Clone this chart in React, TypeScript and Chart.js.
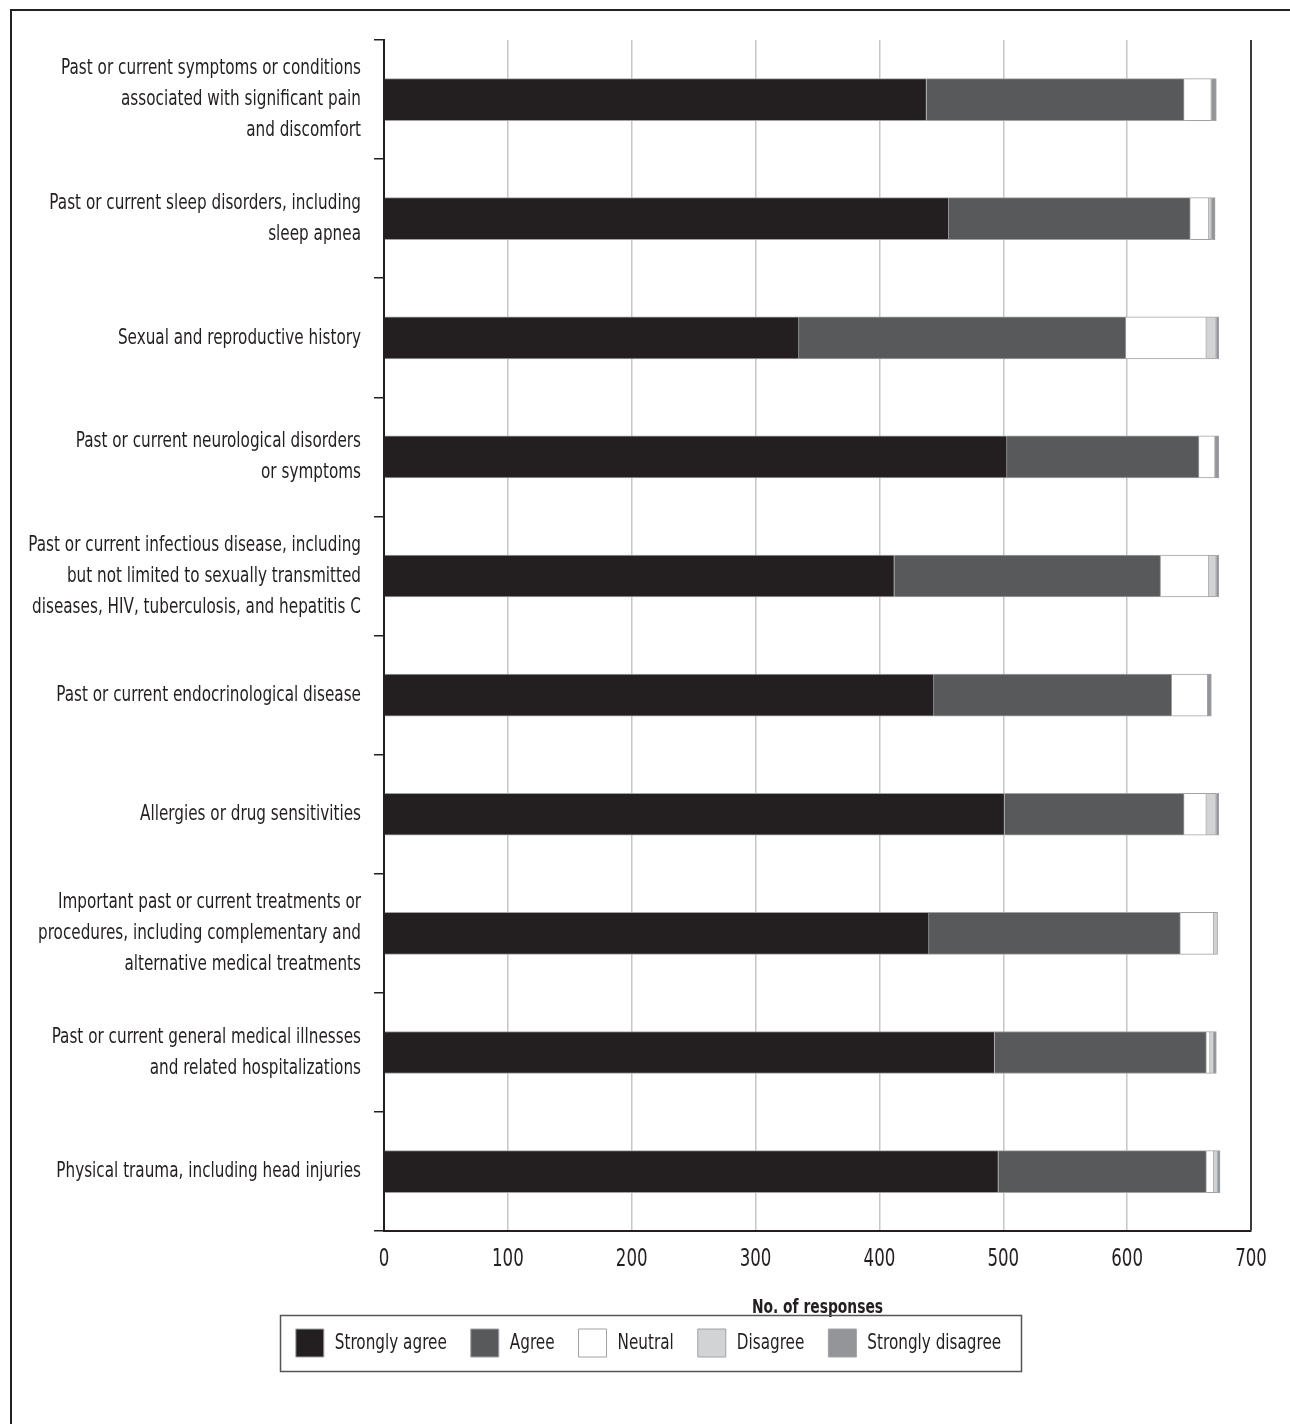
import React, { useEffect, useRef } from 'react';
import { Chart, registerables } from 'chart.js';
Chart.register(...registerables);

const categories: (string | string[])[] = [
  ['Past or current symptoms or conditions', 'associated with significant pain', 'and discomfort'],
  ['Past or current sleep disorders, including', 'sleep apnea'],
  'Sexual and reproductive history',
  ['Past or current neurological disorders', 'or symptoms'],
  ['Past or current infectious disease, including', 'but not limited to sexually transmitted', 'diseases, HIV, tuberculosis, and hepatitis C'],
  'Past or current endocrinological disease',
  'Allergies or drug sensitivities',
  ['Important past or current treatments or', 'procedures, including complementary and', 'alternative medical treatments'],
  ['Past or current general medical illnesses', 'and related hospitalizations'],
  'Physical trauma, including head injuries',
];
const stronglyAgree = [438, 456, 335, 503, 412, 444, 501, 440, 493, 496];
const agree = [208, 195, 264, 155, 215, 192, 145, 203, 171, 168];
const neutral = [22, 15, 65, 13, 39, 29, 18, 27, 3, 6];
const disagree = [0, 2, 8, 0, 6, 0, 8, 3, 3, 3];
const stronglyDisagree = [4, 3, 2, 3, 2, 3, 2, 0, 2, 2];
const xTicks = [0, 100, 200, 300, 400, 500, 600, 700];

const FONT = '"DejaVu Sans Condensed", sans-serif';
const INK = '#231f20';
const SQUEEZE = 0.77;
const LEGEND_SHIFT = 23;

const legendFrame = {
  id: 'legendFrame',
  afterUpdate(chart: any) {
    const lg = chart.legend;
    if (!lg) return;
    lg.left += LEGEND_SHIFT;
    lg.right += LEGEND_SHIFT;
    (lg.legendHitBoxes || []).forEach((b: any) => { b.left += LEGEND_SHIFT; });
  },
  afterDraw(chart: any) {
    const boxes = chart.legend && chart.legend.legendHitBoxes;
    if (!boxes || !boxes.length) return;
    const l = Math.min(...boxes.map((b: any) => b.left));
    const r = Math.max(...boxes.map((b: any) => b.left + b.width));
    const t = Math.min(...boxes.map((b: any) => b.top));
    const bt = Math.max(...boxes.map((b: any) => b.top + b.height));
    const ctx = chart.ctx;
    ctx.save();
    ctx.strokeStyle = '#555';
    ctx.lineWidth = 1.5;
    ctx.strokeRect(Math.round(l - 16) + 0.5, Math.round(t - 14) + 0.5, Math.round(r - l + 36), Math.round(bt - t + 28));
    ctx.restore();
  },
};

function condense(ctx: CanvasRenderingContext2D) {
  const origFill = ctx.fillText.bind(ctx);
  const origMeasure = ctx.measureText.bind(ctx);
  (ctx as any).fillText = (t: string, x: number, y: number) => {
    ctx.save();
    ctx.translate(x, y);
    ctx.scale(SQUEEZE, 1);
    origFill(t, 0, 0);
    ctx.restore();
  };
  (ctx as any).measureText = (t: string) => {
    const m = origMeasure(t);
    return {
      width: m.width * SQUEEZE,
      actualBoundingBoxAscent: m.actualBoundingBoxAscent,
      actualBoundingBoxDescent: m.actualBoundingBoxDescent,
      actualBoundingBoxLeft: m.actualBoundingBoxLeft * SQUEEZE,
      actualBoundingBoxRight: m.actualBoundingBoxRight * SQUEEZE,
    };
  };
}

export default function App() {
  const ref = useRef<HTMLCanvasElement>(null);
  useEffect(() => {
    if (!ref.current) return;
    const ctx = ref.current.getContext('2d')!;
    condense(ctx);
    const mk = (label: string, data: number[], bg: string) => ({
      label,
      data,
      backgroundColor: bg,
      borderColor: '#a0a2a5',
      borderWidth: 1,
      barThickness: 42,
    });
    const chart = new Chart(ctx, {
      type: 'bar',
      data: {
        labels: categories as any,
        datasets: [
          mk('Strongly agree', stronglyAgree, INK),
          mk('Agree', agree, '#58595b'),
          mk('Neutral', neutral, '#ffffff'),
          mk('Disagree', disagree, '#d1d3d4'),
          mk('Strongly disagree', stronglyDisagree, '#939598'),
        ],
      },
      options: {
        indexAxis: 'y',
        responsive: false,
        animation: false,
        devicePixelRatio: 1,
        layout: { padding: { left: 0, right: 39, top: 40, bottom: 57 } },
        scales: {
          x: {
            stacked: true,
            min: 0,
            max: 700,
            afterBuildTicks: (s: any) => { s.ticks = xTicks.map((v) => ({ value: v })); },
            grid: {
              drawTicks: false,
              color: (c: any) => (c.tick && c.tick.value === 700 ? '#3a3a3a' : c.tick && c.tick.value === 0 ? 'rgba(0,0,0,0)' : '#c6c6c6'),
              lineWidth: (c: any) => (c.tick && c.tick.value === 700 ? 2 : 1.5),
            },
            border: { color: INK, width: 2 },
            ticks: { color: INK, font: { family: FONT, size: 24 }, padding: 14, maxRotation: 0 },
            title: {
              display: true,
              text: 'No. of responses',
              color: INK,
              font: { family: FONT, size: 20, weight: 'bold' },
              padding: { top: 8, bottom: -15 },
            },
          },
          y: {
            stacked: true,
            afterFit: (s: any) => { s.width = 384; },
            grid: { offset: true, drawOnChartArea: false, tickLength: 10, color: INK, lineWidth: 1.5 },
            border: { color: INK, width: 2 },
            ticks: {
              color: INK,
              padding: 13,
              font: { family: FONT, size: 22, lineHeight: 31 / 22 },
            },
          },
        },
        plugins: {
          legend: {
            position: 'bottom',
            labels: {
              boxWidth: 28,
              boxHeight: 28,
              padding: 24,
              color: INK,
              font: { family: FONT, size: 22 },
            },
          },
          tooltip: { enabled: false },
        },
      },
      plugins: [legendFrame],
    } as any);
    return () => chart.destroy();
  }, []);
  return (
    <div style={{ position: 'absolute', left: 0, top: 0, width: 1290, height: 1424, background: '#fff', overflow: 'hidden' }}>
      <div style={{ position: 'absolute', left: 10, top: 9, width: 1300, height: 1430, borderTop: '2px solid #222', borderLeft: '2px solid #222' }} />
      <canvas ref={ref} width={1290} height={1424} style={{ position: 'absolute', left: 0, top: 0 }} />
    </div>
  );
}
